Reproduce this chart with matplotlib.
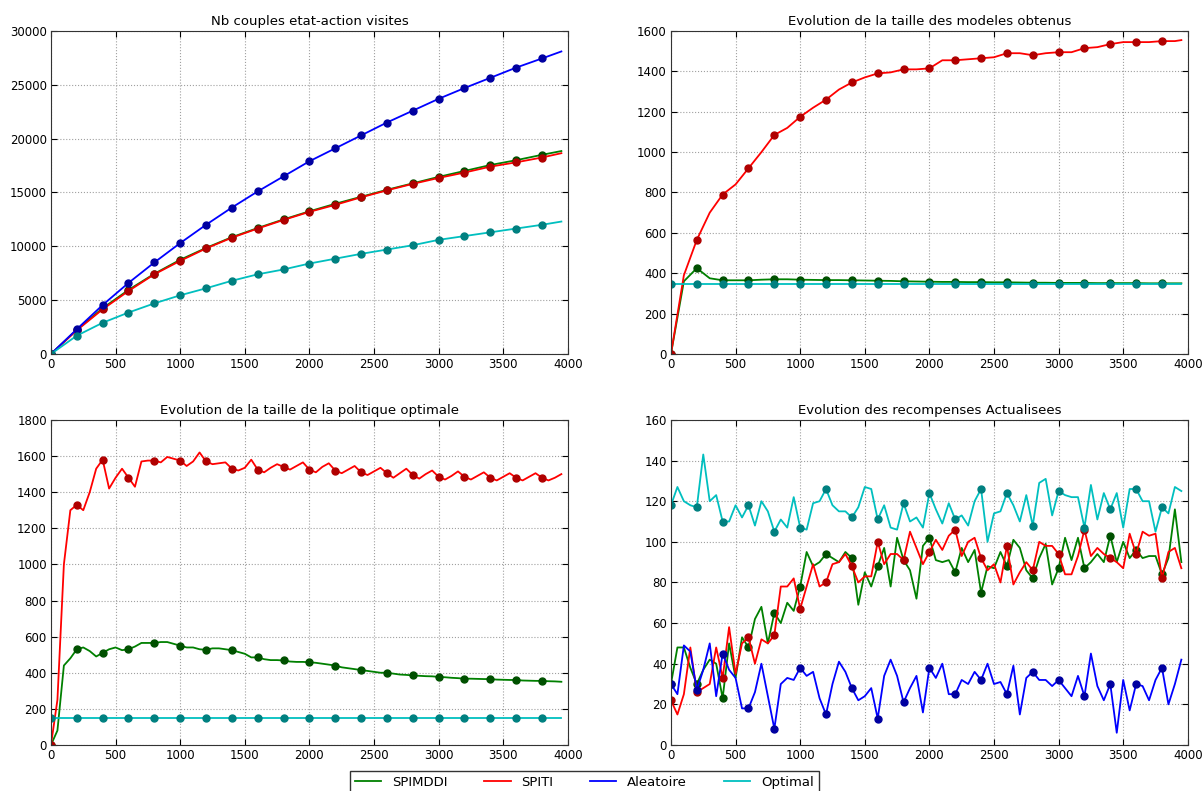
#!/usr/bin/env python3
import matplotlib
matplotlib.use("Agg")
import matplotlib.pyplot as plt
from matplotlib.lines import Line2D

# x grids (episodes)
X200 = list(range(0, 4000, 200)) + [3950]
X100 = list(range(0, 4000, 100)) + [3950]
X50 = list(range(0, 4000, 50))

labels = ["SPIMDDI", "SPITI", "Aleatoire", "Optimal"]
colors = ["#008000", "#ff0000", "#0000ff", "#00bfbf"]
edge_colors = ["#005000", "#b00000", "#0000a0", "#008080"]

# Nb couples etat-action visites (X200)
visits_spimddi = [0, 2250, 4250, 5950, 7450, 8750, 9850, 10850, 11700, 12500, 13250,
                  13950, 14600, 15250, 15850, 16450, 17000, 17550, 18000, 18500, 18850]
visits_spiti = [0, 2200, 4150, 5850, 7400, 8650, 9800, 10800, 11650, 12450, 13200,
                13850, 14550, 15200, 15800, 16350, 16850, 17400, 17800, 18250, 18650]
visits_alea = [0, 2300, 4550, 6600, 8500, 10300, 12000, 13600, 15100, 16500, 17900,
               19100, 20300, 21500, 22600, 23700, 24700, 25650, 26600, 27450, 28100]
visits_opt = [0, 1700, 2900, 3850, 4700, 5450, 6100, 6800, 7400, 7850, 8400,
              8850, 9300, 9700, 10100, 10600, 10950, 11300, 11650, 12000, 12300]

# Taille des modeles (X100 for SPIMDDI / SPITI, X200 for Optimal)
model_spimddi = [0, 360, 425, 375, 365, 365, 365, 368, 370, 370, 368, 367, 366, 366,
                 365, 364, 363, 362, 360, 359, 358, 357, 357, 356, 356, 355, 355, 354,
                 353, 353, 352, 352, 352, 351, 351, 351, 351, 350, 350, 350, 350]
model_spiti = [0, 390, 565, 700, 790, 840, 920, 1000, 1085, 1120, 1175, 1220, 1260, 1310,
               1345, 1370, 1390, 1395, 1410, 1410, 1415, 1455, 1455, 1460, 1465, 1470,
               1490, 1490, 1480, 1490, 1495, 1495, 1515, 1520, 1535, 1545, 1545, 1545,
               1550, 1550, 1555]
model_opt = [348, 348, 348, 348, 348, 348, 348, 348, 348, 348, 348,
             348, 348, 348, 348, 348, 348, 348, 348, 348, 348]

# Taille de la politique optimale (X50, Optimal on X200)
policy_spimddi = [0, 80, 440, 480, 530, 540, 520, 490, 510, 530, 540, 525, 530, 545, 565, 565,
                  565, 570, 570, 560, 550, 540, 540, 530, 527, 535, 535, 530, 525, 515, 505, 485,
                  485, 475, 470, 470, 468, 462, 460, 460, 458, 455, 450, 445, 440, 430, 425, 420,
                  415, 410, 405, 400, 400, 395, 390, 388, 385, 383, 381, 380, 377, 375, 372, 370,
                  367, 367, 366, 365, 365, 362, 361, 360, 360, 357, 356, 355, 355, 353, 352, 350]
policy_spiti = [0, 250, 1000, 1300, 1330, 1300, 1400, 1530, 1580, 1420, 1480, 1530, 1480, 1430,
                1570, 1575, 1575, 1565, 1595, 1585, 1575, 1545, 1570, 1620, 1570, 1555, 1560,
                1565, 1530, 1520, 1535, 1580, 1525, 1510, 1535, 1555, 1540, 1525, 1545, 1565,
                1525, 1510, 1540, 1560, 1520, 1505, 1525, 1545, 1510, 1495, 1515, 1535, 1505,
                1480, 1505, 1530, 1495, 1475, 1500, 1520, 1485, 1470, 1490, 1515, 1485, 1470,
                1490, 1510, 1480, 1465, 1485, 1505, 1480, 1465, 1485, 1505, 1480, 1465, 1480, 1500]
policy_opt = [150, 150, 150, 150, 150, 150, 150, 150, 150, 150, 150,
              150, 150, 150, 150, 150, 150, 150, 150, 150, 150]

# Recompenses actualisees (X50)
reward_spimddi = [30, 48, 48, 38, 30, 37, 42, 40, 23, 50, 33, 53, 48, 62, 68, 50,
                  65, 60, 70, 66, 78, 95, 88, 90, 94, 92, 90, 95, 92, 69, 85, 78,
                  88, 97, 78, 102, 91, 86, 72, 98, 102, 91, 90, 91, 85, 97, 90, 96,
                  75, 88, 87, 95, 88, 101, 97, 86, 82, 92, 99, 79, 87, 102, 91, 102,
                  87, 90, 94, 90, 103, 90, 100, 92, 96, 92, 93, 93, 84, 92, 116, 90]
reward_spiti = [22, 15, 25, 48, 26, 28, 30, 48, 33, 58, 35, 50, 53, 40, 52, 50,
                54, 78, 78, 82, 67, 78, 89, 78, 80, 89, 90, 94, 88, 80, 83, 83,
                100, 89, 94, 94, 91, 105, 97, 89, 95, 101, 96, 103, 106, 93, 100, 102,
                92, 86, 89, 80, 98, 79, 85, 90, 86, 100, 98, 98, 94, 84, 84, 93,
                106, 93, 97, 94, 92, 90, 87, 104, 94, 105, 103, 104, 82, 95, 97, 87]
reward_alea = [30, 25, 49, 46, 27, 37, 50, 24, 45, 37, 33, 18, 18, 26, 40, 24,
               8, 30, 33, 32, 38, 34, 36, 23, 15, 30, 41, 36, 28, 22, 24, 28,
               13, 34, 42, 34, 21, 28, 34, 16, 38, 33, 40, 25, 25, 32, 30, 36,
               32, 40, 30, 31, 25, 39, 15, 33, 36, 32, 32, 29, 32, 28, 24, 34,
               24, 45, 29, 22, 30, 6, 32, 17, 30, 29, 22, 32, 38, 20, 30, 42]
reward_opt = [118, 127, 120, 118, 117, 143, 120, 123, 110, 110, 118, 112, 118, 108, 120, 115,
              105, 111, 107, 122, 107, 106, 119, 120, 126, 118, 115, 115, 112, 117, 127, 126,
              111, 118, 107, 106, 119, 110, 112, 107, 124, 116, 109, 119, 111, 113, 108, 120,
              126, 100, 114, 115, 124, 118, 110, 123, 108, 129, 131, 113, 125, 123, 122, 122,
              107, 128, 111, 124, 116, 124, 107, 126, 126, 120, 120, 105, 117, 114, 127, 125]

panels = [
    ("Nb couples etat-action visites", [0.0424, 0.5525, 0.430, 0.4083], 30000, 5000,
     [(X200, visits_spimddi), (X200, visits_spiti), (X200, visits_alea), (X200, visits_opt)]),
    ("Evolution de la taille des modeles obtenus", [0.5582, 0.5525, 0.430, 0.4083], 1600, 200,
     [(X100, model_spimddi), (X100, model_spiti), None, (X200, model_opt)]),
    ("Evolution de la taille de la politique optimale", [0.0424, 0.0582, 0.430, 0.4109], 1800, 200,
     [(X50, policy_spimddi), (X50, policy_spiti), None, (X200, policy_opt)]),
    ("Evolution des recompenses Actualisees", [0.5582, 0.0582, 0.430, 0.4109], 160, 20,
     [(X50, reward_spimddi), (X50, reward_spiti), (X50, reward_alea), (X50, reward_opt)]),
]

fig = plt.figure(figsize=(12.02, 7.91), dpi=100)
for title, rect, ymax, ystep, series in panels:
    ax = fig.add_axes(rect)
    for i, s in enumerate(series):
        if s is None:
            continue
        xs, ys = s
        # marker every 200 episodes, not on the last point
        marks = [k for k, x in enumerate(xs) if x % 200 == 0]
        ax.plot(xs, ys, color=colors[i], lw=1.3, marker="o", markersize=5,
                markevery=marks, markerfacecolor=edge_colors[i],
                markeredgecolor=edge_colors[i])
    ax.set_xlim(0, 4000)
    ax.set_ylim(0, ymax)
    ax.set_xticks(range(0, 4001, 500))
    ax.set_yticks(range(0, ymax + 1, ystep))
    ax.set_title(title, fontsize=9.5, pad=4)
    ax.grid(True, color="#a0a0a0", linestyle=":", linewidth=0.8)
    ax.tick_params(direction="in", top=True, right=True, labelsize=8.5, length=4, pad=3)
    for sp in ax.spines.values():
        sp.set_color("#333333")

# legend shows plain lines only
handles = [Line2D([], [], color=c, lw=1.3) for c in colors]
fig.legend(handles, labels, loc="upper center", bbox_to_anchor=(0.486, 0.034), ncol=4,
           fontsize=9.5, fancybox=False, edgecolor="#333333", framealpha=1,
           handlelength=2.0, columnspacing=2.8, borderpad=0.4)

fig.savefig("out.png", dpi=100)
